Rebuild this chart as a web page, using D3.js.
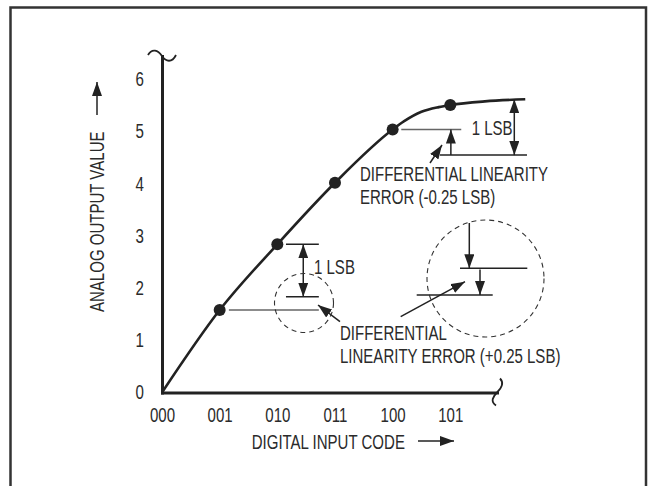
<!DOCTYPE html>
<html>
<head>
<meta charset="utf-8">
<script src="https://cdn.jsdelivr.net/npm/d3@7"></script>
<style>
  body { margin: 0; background: #fff; }
  text { font-family: "Liberation Sans", Arial, sans-serif; font-size: 19.5px; fill: #2b2b2b; }
</style>
</head>
<body>
<svg id="chart" width="654" height="486"></svg>
<script>
// codes on the x axis, values on the y axis
const codes = ["000", "001", "010", "011", "100", "101"];
const yTicks = [0, 1, 2, 3, 4, 5, 6];

// transfer curve (x in code steps, y in LSB)
const curveX = [0, 1, 2, 3, 4, 4.2, 4.5, 4.8, 5, 5.6, 6.3];
const curveY = [0, 1.58, 2.84, 4.02, 5.04, 5.2, 5.38, 5.47, 5.51, 5.58, 5.62];

// dots on the codes 001..101
const dotX = [1, 2, 3, 4, 5];
const dotY = [1.58, 2.84, 4.02, 5.04, 5.51];

const svg = d3.select("#chart");
const ink = "#222";

// axis extents run a bit past the last tick, like the drawing
const x = d3.scaleLinear([0, 5.81], [162, 497]);
const y = d3.scaleLinear([0, 6.45], [392.5, 56]);

// arrow head marker
const defs = svg.append("defs");
defs.append("marker")
    .attr("id", "ah")
    .attr("viewBox", "0 0 14 10")
    .attr("refX", 14).attr("refY", 5)
    .attr("markerWidth", 14).attr("markerHeight", 10)
    .attr("markerUnits", "userSpaceOnUse")
    .attr("orient", "auto-start-reverse")
  .append("path")
    .attr("d", "M0,0L14,5L0,10Z")
    .attr("fill", ink);

// frame (open at the bottom of the picture)
svg.append("rect")
   .attr("x", 10.5).attr("y", 7.5)
   .attr("width", 635.5).attr("height", 500)
   .attr("fill", "none")
   .attr("stroke", "#333")
   .attr("stroke-width", 2.5);

// axes
const gx = svg.append("g")
   .attr("transform", `translate(0,${y(0)})`)
   .call(d3.axisBottom(x).tickValues(d3.range(codes.length)).tickFormat(i => codes[i])
           .tickSize(0).tickPadding(16));
const gy = svg.append("g")
   .attr("transform", `translate(${x(0)},0)`)
   .call(d3.axisLeft(y).tickValues(yTicks).tickFormat(d3.format("d")).tickSize(0).tickPadding(18));

[gx, gy].forEach(g => {
  g.attr("font-family", null).attr("font-size", null);
  g.select(".domain").attr("stroke", ink).attr("stroke-width", 3).attr("stroke-linecap", "square");
  g.selectAll(".tick text").attr("fill", "#2b2b2b");
});

// break marks at the axis ends
const yTop = y.range()[1], xEnd = x.range()[1];
svg.append("path")
   .attr("d", `M${x(0) - 14},${yTop - 1} C${x(0) - 10},${yTop - 8} ${x(0) - 4},${yTop - 6} ${x(0)},${yTop} S${x(0) + 10},${yTop + 7} ${x(0) + 14},${yTop - 1}`)
   .attr("fill", "none").attr("stroke", ink).attr("stroke-width", 1.8);
svg.append("path")
   .attr("d", `M${xEnd + 3},${y(0) - 14} C${xEnd + 8},${y(0) - 9} ${xEnd + 4},${y(0) - 4} ${xEnd},${y(0)} S${xEnd - 7},${y(0) + 9} ${xEnd - 1},${y(0) + 13}`)
   .attr("fill", "none").attr("stroke", ink).attr("stroke-width", 1.8);

// axis titles
svg.append("text")
   .attr("x", 251.7).attr("y", 441.7).attr("dy", "0.35em")
   .text("DIGITAL INPUT CODE");
svg.append("line")
   .attr("x1", 418).attr("y1", 441).attr("x2", 454).attr("y2", 441)
   .attr("stroke", ink).attr("stroke-width", 1.5).attr("marker-end", "url(#ah)");

svg.append("text")
   .attr("transform", "translate(97,312) rotate(-90)")
   .attr("dy", "0.35em")
   .text("ANALOG OUTPUT VALUE");
svg.append("line")
   .attr("x1", 97).attr("y1", 115).attr("x2", 97).attr("y2", 82)
   .attr("stroke", ink).attr("stroke-width", 1.5).attr("marker-end", "url(#ah)");

// annotation lines (drawn below the curve)
const ann = svg.append("g").attr("stroke-width", 1.5).attr("fill", "none");
function seg(x1, y1, x2, y2, color, arrow) {
  const l = ann.append("line")
     .attr("x1", x1).attr("y1", y1).attr("x2", x2).attr("y2", y2)
     .attr("stroke", color || ink);
  if (arrow === "end" || arrow === "both") l.attr("marker-end", "url(#ah)");
  if (arrow === "both") l.attr("marker-start", "url(#ah)");
  return l;
}

// upper: -0.25 LSB
seg(x(4.15), y(dotY[3]), x(5.19), y(dotY[3]), "#666");
seg(x(4.82), y(4.55), x(6.33), y(4.55));
seg(x(6.11), y(5.62), x(6.11), y(4.55), ink, "both");
seg(x(5.01), y(4.55), x(5.01), y(dotY[3]), ink, "end");
seg(430, 163, 442, 145, ink, "end");

// lower: +0.25 LSB
seg(x(2.15), y(dotY[1]), x(2.72), y(dotY[1]));
seg(x(2.15), y(1.835), x(2.72), y(1.835));
seg(x(2.45), y(dotY[1]), x(2.45), y(1.835), ink, "both");
seg(x(1.16), y(dotY[0]), x(2.72), y(dotY[0]), "#666");
seg(340, 321.7, 318, 305, ink, "end");

// right magnified view
seg(460, 268.3, 527.3, 268.3);
seg(469.3, 223, 469.3, 268.3, ink, "end");
seg(480, 269.5, 480, 295, ink, "end");
seg(416.7, 295, 492.7, 295);
seg(400.7, 316.7, 465, 281.7, ink, "end");

// dashed circles
svg.append("circle").attr("cx", 304).attr("cy", 303).attr("r", 29.5)
   .attr("fill", "none").attr("stroke", "#333").attr("stroke-width", 1.1).attr("stroke-dasharray", "5,4");
svg.append("circle").attr("cx", 485.5).attr("cy", 278.5).attr("r", 58.5)
   .attr("fill", "none").attr("stroke", "#333").attr("stroke-width", 1.1).attr("stroke-dasharray", "5,4");

// transfer curve
const line = d3.line().x(i => x(curveX[i])).y(i => y(curveY[i])).curve(d3.curveMonotoneX);
svg.append("path")
   .attr("d", line(d3.range(curveX.length)))
   .attr("fill", "none").attr("stroke", ink).attr("stroke-width", 2.6);

svg.append("g").selectAll("circle")
   .data(d3.range(dotX.length))
   .join("circle")
     .attr("cx", i => x(dotX[i]))
     .attr("cy", i => y(dotY[i]))
     .attr("r", 6)
     .attr("fill", ink);

// annotation text
const notes = [
  ["1 LSB", 471.7, 128],
  ["DIFFERENTIAL LINEARITY", 360, 174],
  ["ERROR (-0.25 LSB)", 360, 197],
  ["1 LSB", 314, 267.3],
  ["DIFFERENTIAL", 340, 332.7],
  ["LINEARITY ERROR (+0.25 LSB)", 340, 355.7]
];
svg.append("g").selectAll("text")
   .data(notes)
   .join("text")
     .attr("x", d => d[1]).attr("y", d => d[2]).attr("dy", "0.35em")
     .text(d => d[0]);

// the original uses a narrow face: squeeze the Arial-metric text
svg.selectAll("text").each(function() {
  const w = this.getComputedTextLength();
  this.setAttribute("textLength", (w * 0.77).toFixed(1));
  this.setAttribute("lengthAdjust", "spacingAndGlyphs");
});
</script>
</body>
</html>
